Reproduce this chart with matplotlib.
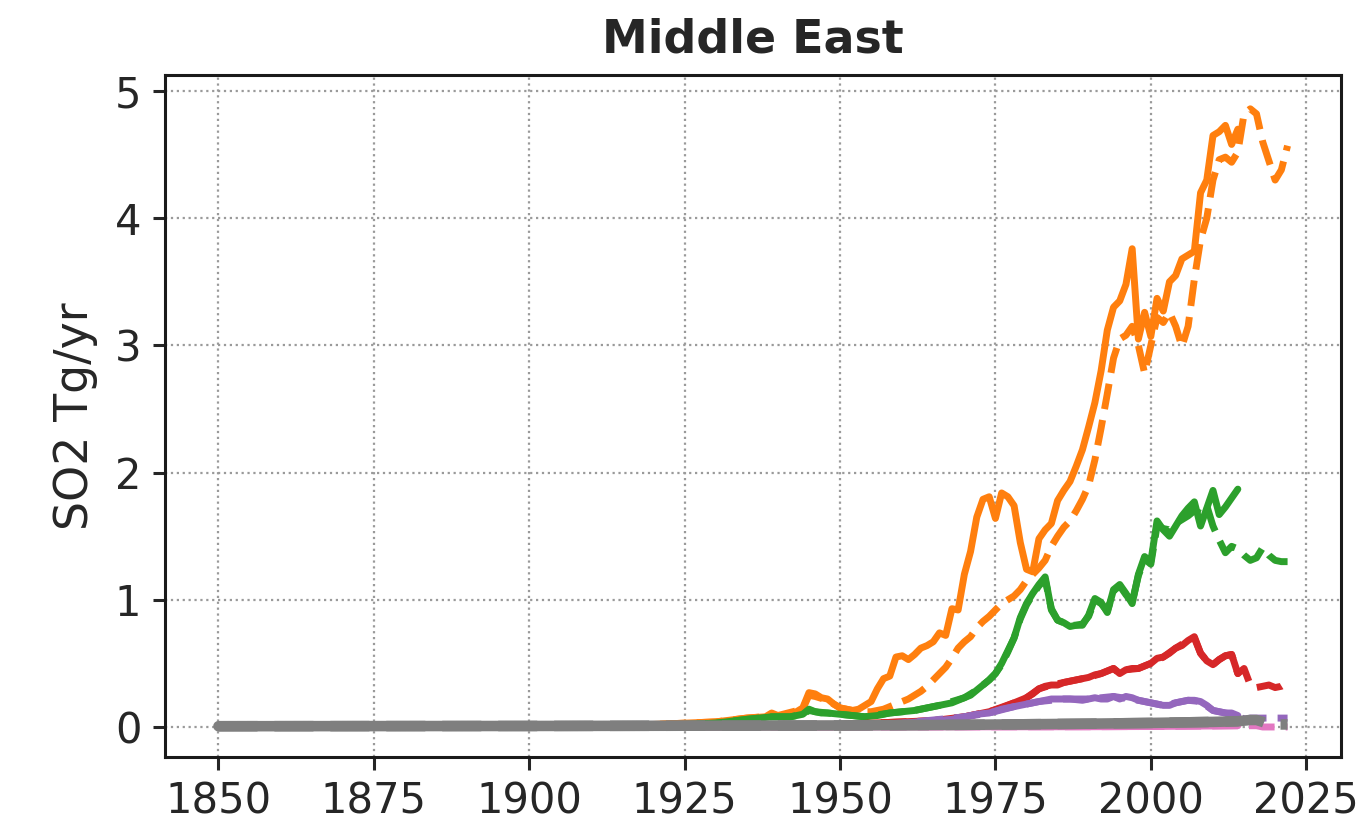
import matplotlib
matplotlib.use("Agg")
import matplotlib.pyplot as plt

# ---------------- data ----------------
# Orange
orange_solid_years = [1850, 1870, 1890, 1900, 1910, 1920, 1925, 1930, 1935, 1938, 1939, 1940, 1941, 1942,
                      1943, 1944, 1945, 1946, 1947, 1948, 1949, 1950, 1951, 1952, 1953, 1954, 1955, 1956,
                      1957, 1958, 1959, 1960, 1961, 1962, 1963, 1964, 1965, 1966, 1967, 1968, 1969, 1970,
                      1971, 1972, 1973, 1974, 1975, 1976, 1977, 1978, 1979, 1980, 1981, 1982, 1983, 1984,
                      1985, 1986, 1987, 1988, 1989, 1990, 1991, 1992, 1993, 1994, 1995, 1996, 1997, 1998,
                      1999, 2000, 2001, 2002, 2003, 2004, 2005, 2006, 2007, 2008, 2009, 2010, 2011, 2012,
                      2013, 2014]
orange_solid = [0.0, 0.001, 0.003, 0.005, 0.01, 0.02, 0.03, 0.04, 0.07, 0.08, 0.11, 0.09, 0.08, 0.10,
                0.12, 0.15, 0.27, 0.26, 0.23, 0.22, 0.18, 0.15, 0.14, 0.13, 0.14, 0.17, 0.20, 0.30,
                0.38, 0.40, 0.55, 0.56, 0.53, 0.57, 0.62, 0.64, 0.67, 0.74, 0.72, 0.93, 0.92, 1.20,
                1.38, 1.65, 1.79, 1.81, 1.64, 1.84, 1.81, 1.74, 1.45, 1.24, 1.22, 1.48, 1.55, 1.60,
                1.78, 1.86, 1.93, 2.05, 2.18, 2.36, 2.55, 2.80, 3.12, 3.30, 3.35, 3.48, 3.76, 3.05,
                3.26, 3.07, 3.37, 3.27, 3.50, 3.55, 3.68, 3.71, 3.74, 4.20, 4.30, 4.65, 4.68, 4.73,
                4.58, 4.70]

orange_dash_years = [1850, 1870, 1890, 1900, 1910, 1920, 1925, 1930, 1935, 1940, 1944, 1945, 1946, 1948,
                     1950, 1952, 1954, 1955, 1956, 1957, 1958, 1959, 1960, 1961, 1962, 1963, 1964, 1965,
                     1966, 1967, 1968, 1969, 1970, 1971, 1972, 1973, 1974, 1975, 1976, 1977, 1978, 1979,
                     1980, 1981, 1982, 1983, 1984, 1985, 1986, 1987, 1988, 1989, 1990, 1991, 1992, 1993,
                     1994, 1995, 1996, 1997, 1998, 1999, 2000, 2001, 2002, 2003, 2004, 2005, 2006, 2007,
                     2008, 2009, 2010, 2011, 2012, 2013, 2014, 2015, 2016, 2017, 2018, 2019, 2020, 2021,
                     2022]
orange_dash = [0.0, 0.001, 0.003, 0.005, 0.01, 0.02, 0.03, 0.04, 0.07, 0.09, 0.14, 0.25, 0.24, 0.21,
               0.15, 0.13, 0.12, 0.12, 0.13, 0.14, 0.16, 0.18, 0.20, 0.22, 0.25, 0.28, 0.32, 0.37,
               0.42, 0.47, 0.54, 0.62, 0.67, 0.71, 0.78, 0.83, 0.87, 0.92, 0.97, 1.00, 1.03, 1.08,
               1.15, 1.20, 1.25, 1.31, 1.42, 1.50, 1.57, 1.62, 1.70, 1.79, 1.90, 2.10, 2.35, 2.62,
               2.90, 3.05, 3.08, 3.15, 3.00, 2.78, 3.00, 3.22, 3.18, 3.26, 3.15, 2.99, 3.15, 3.52,
               3.83, 4.00, 4.30, 4.46, 4.48, 4.44, 4.52, 4.82, 4.86, 4.82, 4.60, 4.45, 4.30, 4.38,
               4.57]

# Green
green_solid_years = [1850, 1880, 1900, 1920, 1930, 1935, 1939, 1942, 1944, 1945, 1946, 1947, 1948, 1950,
                     1952, 1954, 1956, 1958, 1960, 1962, 1964, 1966, 1968, 1970, 1971, 1972, 1973, 1974,
                     1975, 1976, 1977, 1978, 1979, 1980, 1981, 1982, 1983, 1984, 1985, 1986, 1987, 1988,
                     1989, 1990, 1991, 1992, 1993, 1994, 1995, 1996, 1997, 1998, 1999, 2000, 2001, 2002,
                     2003, 2004, 2005, 2006, 2007, 2008, 2009, 2010, 2011, 2012, 2013, 2014]
green_solid = [0.0, 0.0, 0.002, 0.01, 0.03, 0.06, 0.08, 0.08, 0.10, 0.14, 0.12, 0.11, 0.11, 0.10,
               0.09, 0.08, 0.09, 0.11, 0.12, 0.13, 0.15, 0.17, 0.19, 0.23, 0.25, 0.29, 0.33, 0.37,
               0.42, 0.50, 0.60, 0.70, 0.86, 0.97, 1.05, 1.12, 1.18, 0.92, 0.84, 0.82, 0.79, 0.80,
               0.80, 0.88, 1.01, 0.98, 0.90, 1.08, 1.12, 1.05, 0.97, 1.20, 1.34, 1.30, 1.62, 1.55,
               1.50, 1.58, 1.66, 1.72, 1.77, 1.58, 1.72, 1.86, 1.67, 1.73, 1.80, 1.87]

green_dash_years = [1850, 1880, 1900, 1920, 1930, 1935, 1939, 1942, 1944, 1945, 1946, 1948, 1950,
                    1954, 1958, 1962, 1966, 1970, 1972, 1974, 1975, 1976, 1977, 1978, 1979, 1980, 1981,
                    1982, 1983, 1984, 1985, 1986, 1987, 1988, 1989, 1990, 1991, 1992, 1993, 1994, 1995,
                    1996, 1997, 1998, 1999, 2000, 2001, 2002, 2003, 2004, 2005, 2006, 2007, 2008, 2009,
                    2010, 2011, 2012, 2013, 2014, 2015, 2016, 2017, 2018, 2019, 2020, 2021, 2022]
green_dash = [0.0, 0.0, 0.002, 0.01, 0.03, 0.06, 0.08, 0.08, 0.10, 0.13, 0.12, 0.11, 0.10,
              0.08, 0.11, 0.13, 0.17, 0.23, 0.29, 0.37, 0.42, 0.49, 0.59, 0.70, 0.85, 0.96, 1.04,
              1.11, 1.16, 0.93, 0.84, 0.82, 0.80, 0.80, 0.81, 0.87, 1.00, 0.97, 0.91, 1.07, 1.11,
              1.04, 0.98, 1.19, 1.32, 1.28, 1.58, 1.56, 1.55, 1.60, 1.63, 1.66, 1.70, 1.68, 1.74,
              1.58, 1.47, 1.37, 1.42, 1.40, 1.35, 1.31, 1.33, 1.41, 1.35, 1.31, 1.30, 1.30]

# Red
red_solid_years = [1850, 1900, 1930, 1945, 1950, 1955, 1960, 1965, 1970, 1972, 1974, 1976, 1978, 1980,
                   1981, 1982, 1983, 1984, 1985, 1986, 1987, 1988, 1989, 1990, 1991, 1992, 1993, 1994,
                   1995, 1996, 1997, 1998, 1999, 2000, 2001, 2002, 2003, 2004, 2005, 2006, 2007, 2008,
                   2009, 2010, 2011, 2012, 2013, 2014]
red_solid = [0.0, 0.0, 0.005, 0.02, 0.02, 0.03, 0.04, 0.05, 0.08, 0.10, 0.12, 0.15, 0.19, 0.23,
             0.26, 0.30, 0.32, 0.33, 0.33, 0.35, 0.36, 0.37, 0.38, 0.39, 0.41, 0.42, 0.44, 0.46,
             0.42, 0.45, 0.46, 0.46, 0.48, 0.50, 0.54, 0.55, 0.58, 0.62, 0.64, 0.68, 0.71, 0.58,
             0.52, 0.49, 0.53, 0.56, 0.57, 0.42]

red_dash_years = [1850, 1900, 1930, 1945, 1950, 1955, 1960, 1965, 1970, 1974, 1978, 1980, 1982, 1984,
                  1986, 1988, 1990, 1992, 1994, 1995, 1996, 1998, 2000, 2002, 2004, 2006, 2007, 2008,
                  2009, 2010, 2011, 2012, 2013, 2014, 2015, 2016, 2017, 2018, 2019, 2020, 2021, 2022]
red_dash = [0.0, 0.0, 0.005, 0.02, 0.02, 0.03, 0.04, 0.05, 0.08, 0.12, 0.19, 0.23, 0.30, 0.33,
            0.35, 0.37, 0.39, 0.42, 0.46, 0.42, 0.45, 0.46, 0.50, 0.55, 0.62, 0.68, 0.70, 0.58,
            0.52, 0.49, 0.53, 0.56, 0.57, 0.42, 0.46, 0.33, 0.31, 0.32, 0.33, 0.31, 0.32, 0.35]

# Purple
purple_solid_years = [1850, 1900, 1940, 1950, 1955, 1960, 1965, 1968, 1970, 1972, 1974, 1976, 1978, 1980,
                      1982, 1984, 1985, 1987, 1989, 1990, 1991, 1992, 1993, 1994, 1995, 1996, 1997, 1998,
                      1999, 2000, 2001, 2002, 2003, 2004, 2005, 2006, 2007, 2008, 2009, 2010, 2011, 2012,
                      2013, 2014]
purple_solid = [0.0, 0.0, 0.005, 0.01, 0.02, 0.03, 0.05, 0.06, 0.08, 0.10, 0.11, 0.14, 0.16, 0.18,
                0.20, 0.22, 0.22, 0.22, 0.21, 0.22, 0.23, 0.22, 0.22, 0.24, 0.22, 0.24, 0.23, 0.21,
                0.20, 0.19, 0.18, 0.17, 0.17, 0.19, 0.20, 0.21, 0.21, 0.20, 0.17, 0.13, 0.12, 0.11,
                0.11, 0.09]

purple_dash_years = [1850, 1900, 1940, 1950, 1960, 1970, 1974, 1978, 1982, 1986, 1990, 1994, 1998, 2002,
                     2006, 2008, 2010, 2012, 2014, 2015, 2016, 2017, 2018, 2019, 2020, 2021, 2022]
purple_dash = [0.0, 0.0, 0.005, 0.01, 0.03, 0.08, 0.11, 0.16, 0.20, 0.22, 0.22, 0.24, 0.21, 0.17,
               0.21, 0.20, 0.13, 0.11, 0.09, 0.06, 0.07, 0.07, 0.07, 0.07, 0.07, 0.07, 0.07]

# Pink
pink_solid_years = [1850, 1950, 1990, 2000, 2010, 2014]
pink_solid = [0.0, 0.0, 0.002, 0.004, 0.008, 0.01]
pink_dash_years = [1850, 1950, 1990, 2000, 2010, 2014, 2017, 2018, 2022]
pink_dash = [0.0, 0.0, 0.002, 0.004, 0.008, 0.01, 0.01, 0.0, 0.0]

# Gray
gray_solid_years = [1850, 1900, 1950, 1970, 1990, 2000, 2010, 2014]
gray_solid = [0.006, 0.008, 0.012, 0.017, 0.026, 0.032, 0.04, 0.045]
gray_dash_years = [1850, 1900, 1950, 1970, 1990, 2000, 2010, 2014, 2015, 2016, 2017, 2018, 2019,
                   2020, 2021, 2022]
gray_dash = [0.006, 0.008, 0.012, 0.017, 0.026, 0.032, 0.04, 0.045, 0.05, 0.055, 0.055, 0.04, 0.02,
             0.02, 0.02, 0.02]

xticks = [1850, 1875, 1900, 1925, 1950, 1975, 2000, 2025]
yticks = [0, 1, 2, 3, 4, 5]

# ---------------- styling ----------------
plt.rcParams.update({
    "font.family": ["DejaVu Sans"],
    "text.color": ".15",
    "axes.labelcolor": ".15",
    "xtick.color": ".15",
    "ytick.color": ".15",
    "axes.edgecolor": ".1",
    "lines.solid_capstyle": "round",
})

fig = plt.figure(figsize=(6.835, 4.12), dpi=200)
ax = fig.add_axes([0.1207, 0.0813, 0.8603, 0.8277])

LW = 2.5
series = [
    (orange_solid_years, orange_solid, "#ff7f0e", "-", LW),
    (orange_dash_years, orange_dash, "#ff7f0e", "--", LW),
    (green_solid_years, green_solid, "#2ca02c", "-", LW),
    (green_dash_years, green_dash, "#2ca02c", "--", LW),
    (red_solid_years, red_solid, "#d62728", "-", LW),
    (red_dash_years, red_dash, "#d62728", "--", LW),
    (purple_solid_years, purple_solid, "#9467bd", "-", LW),
    (purple_dash_years, purple_dash, "#9467bd", "--", LW),
    (pink_solid_years, pink_solid, "#e377c2", "-", LW),
    (pink_dash_years, pink_dash, "#e377c2", "--", LW),
    (gray_solid_years, gray_solid, "#7f7f7f", "-", 3.8),
    (gray_dash_years, gray_dash, "#7f7f7f", "--", 3.8),
]
for xs, ys, c, ls, lw in series:
    ax.plot(xs, ys, color=c, linestyle=ls, linewidth=lw)

ax.set_xlim(1841.4, 2030.6)
ax.set_ylim(-0.236, 5.126)
ax.set_xticks(xticks)
ax.set_yticks(yticks)
ax.grid(True, linestyle=":", color="#9a9a9a", linewidth=0.8)
ax.set_axisbelow(True)
for s in ax.spines.values():
    s.set_linewidth(1.1)
ax.tick_params(axis="both", labelsize=15, length=4.5, width=1.1, direction="out", pad=4)

ax.set_ylabel("SO2 Tg/yr", fontsize=16.5, labelpad=6)
ax.set_title("Middle East", fontsize=16.5, fontweight="bold", pad=8)

fig.savefig("out.png", dpi=200)
